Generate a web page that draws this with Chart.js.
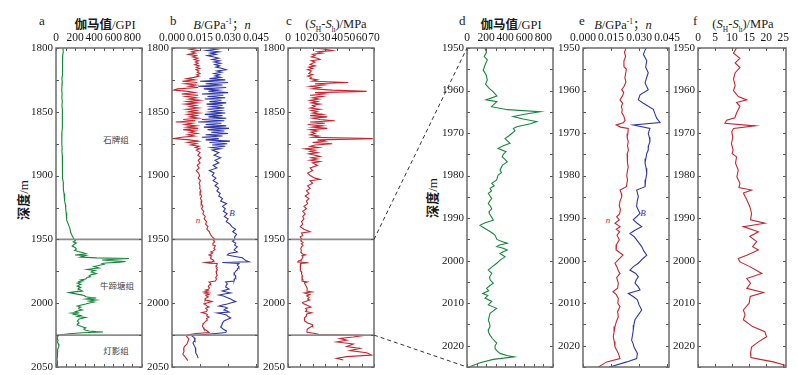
<!DOCTYPE html>
<html>
<head>
<meta charset="utf-8">
<script src="https://cdn.jsdelivr.net/npm/chart.js@4.4.1/dist/chart.umd.min.js"></script>
<style>
  body { margin: 0; background: #fff; }
  #fig { position: relative; width: 798px; height: 375px; overflow: hidden;
         font-family: "Liberation Serif", serif; color: #1a1a1a; }
  #fig canvas { position: absolute; }
  .t { position: absolute; white-space: nowrap; line-height: 1; }
  .let { font-size: 13px; }
  .ttl { font-size: 12.5px; transform: translateX(-50%); }
  .cjk { font-family: "Noto Sans CJK SC", sans-serif; font-weight: 700; }
  .ttl sup, .ttl sub { font-size: 7.5px; line-height: 0; }
  .fm { font-family: "Noto Sans CJK SC", sans-serif; font-size: 8.5px; color: #444; transform: translate(-50%, -50%); }
  .yl { font-size: 13px; transform: translate(-50%, -50%) rotate(-90deg); }
  .cl { font-size: 9px; font-style: italic; transform: translate(-50%, -50%); }
</style>
</head>
<body>
<div id="fig">
  <div class="t let" style="left:39px;top:14px">a</div>
  <div class="t ttl" style="left:105px;top:18px"><span class="cjk">伽马值</span>/GPI</div>
  <div class="t let" style="left:170px;top:14px">b</div>
  <div class="t ttl" style="left:222px;top:18px"><i>B</i>/GPa<sup>-1</sup><span style="font-family:'Noto Sans CJK SC'">；</span><i>n</i></div>
  <div class="t let" style="left:286px;top:14px">c</div>
  <div class="t ttl" style="left:336px;top:18px">(<i>S</i><sub>H</sub>-<i>S</i><sub>h</sub>)/MPa</div>
  <div class="t let" style="left:459px;top:14px">d</div>
  <div class="t ttl" style="left:511px;top:18px"><span class="cjk">伽马值</span>/GPI</div>
  <div class="t let" style="left:579px;top:14px">e</div>
  <div class="t ttl" style="left:623px;top:18px"><i>B</i>/GPa<sup>-1</sup><span style="font-family:'Noto Sans CJK SC'">；</span><i>n</i></div>
  <div class="t let" style="left:693px;top:14px">f</div>
  <div class="t ttl" style="left:743px;top:18px">(<i>S</i><sub>H</sub>-<i>S</i><sub>h</sub>)/MPa</div>

  <div class="t yl" style="left:23px;top:200px"><span class="cjk">深度</span>/m</div>
  <div class="t yl" style="left:432px;top:198px"><span class="cjk">深度</span>/m</div>

  <div class="t fm" style="left:116px;top:139px">石牌组</div>
  <div class="t fm" style="left:117px;top:285px">牛蹄塘组</div>
  <div class="t fm" style="left:116px;top:350px">灯影组</div>

  <div class="t cl" style="left:198px;top:220px;color:#c3262f">n</div>
  <div class="t cl" style="left:232px;top:213px;color:#2f36a6">B</div>
  <div class="t cl" style="left:608px;top:220px;color:#c3262f">n</div>
  <div class="t cl" style="left:643px;top:213px;color:#2f36a6">B</div>
</div>
<script>
// 层位界线 (m)
const formationTops = [1950, 2025];

// 刻度
const depthTicksFull = [1800, 1850, 1900, 1950, 2000, 2050];
const depthMarksFull = [1800, 1825, 1850, 1875, 1900, 1925, 1950, 1975, 2000, 2025, 2050];
const depthTicksZoom = [1950, 1960, 1970, 1980, 1990, 2000, 2010, 2020];
const depthMarksZoom = [1950, 1955, 1960, 1965, 1970, 1975, 1980, 1985, 1990, 1995, 2000, 2005, 2010, 2015, 2020, 2025];
const gammaTicks = [0, 200, 400, 600, 800];
const gammaMarks = [0, 100, 200, 300, 400, 500, 600, 700, 800, 900];
const modulusTicks = [0, 0.015, 0.030, 0.045];
const stressTicksFull = [0, 10, 20, 30, 40, 50, 60, 70];
const stressTicksZoom = [0, 5, 10, 15, 20, 25];

// 伽马值 GPI  [深度, 值]
const gammaLog = [
  [1800,72],[1803,76],[1806,70],[1809,71],[1812,68],[1815,70],[1818,66],[1821,64],[1824,62],[1827,66],
  [1830,63],[1833,60],[1836,64],[1839,61],[1842,66],[1845,62],[1848,67],[1851,65],[1854,69],[1857,66],
  [1860,68],[1863,64],[1866,62],[1869,60],[1872,62],[1875,60],[1878,64],[1881,62],[1884,66],[1887,64],
  [1890,68],[1893,66],[1896,70],[1899,68],[1902,72],[1905,76],[1908,74],[1911,80],[1914,84],[1917,88],
  [1920,93],[1923,99],[1926,102],[1929,106],[1932,110],[1935,114],[1938,128],[1941,144],[1944,152],
  [1946,161],[1948,175],
  [1950,188],[1951,204],[1952,180],[1952.8,213],[1954,189],[1955.2,170],[1956.3,199],[1957.5,213],
  [1958.5,194],[1959.5,232],[1960.3,275],[1961.3,313],[1962.2,199],[1962.6,313],[1963.8,256],
  [1964.5,426],[1965,763],[1965.5,616],[1966.1,483],[1966.7,587],[1967.3,729],[1967.8,663],
  [1968.5,521],[1968.9,485],[1969.5,502],[1970.1,468],[1970.7,436],[1971.3,398],[1972.4,450],
  [1973,379],[1973.6,325],[1974.4,408],[1975,379],[1975.6,369],[1976.2,398],[1976.8,421],[1977.6,369],
  [1978.7,346],[1979.3,360],[1979.9,325],[1981,311],[1981.8,259],[1982.4,284],[1983,241],[1983.6,256],
  [1984.2,223],[1984.8,241],[1985.4,259],[1986,237],[1986.6,223],[1987.2,246],[1987.8,259],[1988.3,237],
  [1988.9,232],[1989.7,256],[1990.5,275],[1991.1,189],[1991.7,136],[1992.3,180],[1992.9,223],
  [1993.5,265],[1994,293],[1995,313],[1995.5,363],[1995.9,421],[1996.3,341],[1996.7,311],[1997.1,379],
  [1997.5,421],[1997.9,379],[1998.3,346],[1999.1,398],[1999.8,350],[2000.6,311],[2001.4,265],
  [2002.2,223],[2003,259],[2003.8,237],[2004.5,241],[2005.3,275],[2005.9,237],[2006.5,205],[2007.1,227],
  [2007.7,164],[2008.2,218],[2008.8,188],[2009.6,259],[2010.4,223],[2011.2,311],[2011.8,275],
  [2012.4,241],[2013.2,232],[2014,223],[2014.8,237],[2015.5,241],[2016.1,227],[2016.7,223],[2017.5,241],
  [2018.3,265],[2019.4,311],[2020,294],[2020.6,293],[2021.2,313],[2021.8,346],[2022.3,417],[2022.6,492],
  [2023.2,275],[2024,136],[2024.9,31],
  [2026,18],[2027.5,12],[2029,22],[2030.5,15],[2032,25],[2034,30],[2036,18],[2038,12],[2040,20],
  [2042,14],[2044,10],[2046,16],[2048,12],[2050,14]
];

// n  [深度, 值]
const nLog = [
  [1800,0.0132],[1801,0.0096],[1802,0.0140],[1803,0.0105],[1804,0.0125],[1805,0.0088],[1806,0.0130],
  [1807,0.0110],[1808,0.0138],[1809,0.0118],[1810,0.0142],[1811,0.0125],[1812,0.0140],[1813,0.0122],
  [1814,0.0145],[1815,0.0130],[1816,0.0148],[1817,0.0128],[1818,0.0143],[1819,0.0135],[1820,0.0150],
  [1821,0.0132],[1822,0.0145],[1823,0.0118],[1824,0.0078],[1825,0.0120],[1826,0.0055],[1827,0.0135],
  [1828,0.0070],[1829,0.0128],[1830,0.0090],[1831,0.0140],[1832,0.0030],[1833,0.0010],[1834,0.0085],
  [1835,0.0122],[1836,0.0052],[1837,0.0140],[1838,0.0075],[1839,0.0130],[1840,0.0090],[1841,0.0148],
  [1842,0.0080],[1843,0.0135],[1844,0.0070],[1845,0.0128],[1846,0.0095],[1847,0.0142],[1848,0.0078],
  [1849,0.0130],[1850,0.0088],[1851,0.0145],[1852,0.0085],[1853,0.0132],[1854,0.0095],[1855,0.0140],
  [1856,0.0060],[1857,0.0125],[1858,0.0020],[1859,0.0110],[1860,0.0070],[1861,0.0130],[1862,0.0080],
  [1863,0.0140],[1864,0.0060],[1865,0.0125],[1866,0.0095],[1867,0.0135],[1868,0.0085],[1869,0.0120],
  [1870,0.0052],[1871,0.0010],[1872,0.0095],[1873,0.0140],[1874,0.0085],[1875,0.0130],[1876,0.0100],
  [1877,0.0145],[1878,0.0125],[1879,0.0148],[1880,0.0130],[1882,0.0150],[1884,0.0138],[1886,0.0155],
  [1888,0.0140],[1890,0.0150],[1892,0.0135],[1894,0.0145],[1896,0.0130],[1898,0.0142],[1900,0.0148],
  [1902,0.0140],[1904,0.0152],[1906,0.0145],[1908,0.0150],[1910,0.0148],[1912,0.0155],[1914,0.0150],
  [1916,0.0158],[1918,0.0152],[1920,0.0160],[1922,0.0156],[1924,0.0165],[1926,0.0158],[1928,0.0170],
  [1930,0.0165],[1932,0.0178],[1934,0.0172],[1936,0.0185],[1938,0.0180],[1940,0.0192],[1942,0.0186],
  [1944,0.0200],[1946,0.0205],[1948,0.0215],
  [1950,0.0230],[1951,0.0222],[1952,0.0228],[1953,0.0219],[1954.4,0.0219],[1955,0.0232],[1956,0.0228],
  [1957,0.0224],[1958,0.0230],[1959,0.0220],[1959.8,0.0207],[1960.5,0.0218],[1961.2,0.0212],
  [1962.2,0.0198],[1963,0.0212],[1963.8,0.0205],[1964.4,0.0210],[1965.2,0.0207],[1966,0.0218],
  [1967,0.0225],[1967.6,0.0215],[1968.1,0.0178],[1968.6,0.0200],[1968.9,0.0242],[1970.1,0.0240],
  [1971,0.0236],[1972,0.0242],[1973,0.0238],[1974,0.0243],[1975,0.0236],[1976,0.0240],[1977,0.0236],
  [1978,0.0242],[1979,0.0237],[1980,0.0234],[1981,0.0238],[1982.6,0.0232],[1983.4,0.0198],
  [1984.2,0.0205],[1985,0.0207],[1986,0.0198],[1987,0.0194],[1988,0.0200],[1989,0.0196],[1989.7,0.0180],
  [1990.4,0.0194],[1991.2,0.0171],[1992,0.0198],[1992.6,0.0178],[1993.2,0.0196],[1994,0.0182],
  [1995.1,0.0194],[1996.2,0.0180],[1997.5,0.0177],[1998.2,0.0200],[1998.7,0.0214],[1999.5,0.0195],
  [2000.6,0.0171],[2001.5,0.0182],[2002.4,0.0189],[2003,0.0198],[2004,0.0180],[2005.3,0.0189],
  [2006.5,0.0185],[2007.3,0.0160],[2008,0.0178],[2008.9,0.0189],[2010,0.0186],[2010.8,0.0198],
  [2012,0.0185],[2013.2,0.0189],[2014.4,0.0178],[2015.5,0.0171],[2016.8,0.0166],[2017.9,0.0162],
  [2019,0.0167],[2020.3,0.0171],[2021,0.0180],[2021.8,0.0189],[2023,0.0198],[2023.8,0.0127],
  [2025,0.0082],
  [2026,0.0078],[2028,0.0090],[2030,0.0085],[2032,0.0080],[2034,0.0066],[2036,0.0062],[2038,0.0064],
  [2040,0.0058],[2042,0.0070],[2044,0.0080],[2045,0.0084]
];

// B (GPa^-1)  [深度, 值]
const bLog = [
  [1800,0.0200],[1801,0.0240],[1802,0.0185],[1803,0.0250],[1804,0.0205],[1805,0.0235],[1806,0.0190],
  [1807,0.0225],[1808,0.0250],[1809,0.0215],[1810,0.0255],[1811,0.0225],[1812,0.0260],[1813,0.0230],
  [1814,0.0255],[1815,0.0235],[1816,0.0270],[1817,0.0290],[1818,0.0240],[1819,0.0265],[1820,0.0225],
  [1821,0.0255],[1822,0.0230],[1823,0.0260],[1824,0.0200],[1825,0.0285],[1826,0.0150],[1827,0.0300],
  [1828,0.0180],[1829,0.0270],[1830,0.0140],[1831,0.0290],[1832,0.0170],[1833,0.0250],[1834,0.0195],
  [1835,0.0300],[1836,0.0160],[1837,0.0275],[1838,0.0190],[1839,0.0285],[1840,0.0175],[1841,0.0265],
  [1842,0.0200],[1843,0.0290],[1844,0.0185],[1845,0.0270],[1846,0.0210],[1847,0.0280],[1848,0.0190],
  [1849,0.0260],[1850,0.0205],[1851,0.0285],[1852,0.0175],[1853,0.0270],[1854,0.0195],[1855,0.0290],
  [1856,0.0160],[1857,0.0280],[1858,0.0140],[1859,0.0265],[1860,0.0180],[1861,0.0290],[1862,0.0170],
  [1863,0.0305],[1864,0.0190],[1865,0.0280],[1866,0.0210],[1867,0.0300],[1868,0.0180],[1869,0.0270],
  [1870,0.0160],[1871,0.0250],[1872,0.0180],[1873,0.0310],[1874,0.0200],[1875,0.0295],[1876,0.0215],
  [1877,0.0285],[1878,0.0210],[1879,0.0260],[1880,0.0215],[1882,0.0250],[1884,0.0225],[1886,0.0260],
  [1888,0.0230],[1890,0.0250],[1892,0.0220],[1894,0.0240],[1896,0.0200],[1898,0.0225],[1900,0.0215],
  [1902,0.0235],[1904,0.0220],[1906,0.0245],[1908,0.0230],[1910,0.0250],[1912,0.0240],[1914,0.0258],
  [1916,0.0250],[1918,0.0270],[1920,0.0260],[1922,0.0292],[1924,0.0270],[1926,0.0285],[1928,0.0275],
  [1930,0.0295],[1932,0.0280],[1934,0.0300],[1936,0.0290],[1938,0.0310],[1940,0.0320],[1942,0.0340],
  [1944,0.0325],[1946,0.0345],[1948,0.0335],
  [1950,0.0337],[1951.5,0.0323],[1953,0.0341],[1954.5,0.0335],[1955.8,0.0349],[1957,0.0340],
  [1958.2,0.0332],[1959.8,0.0349],[1961,0.0305],[1962.2,0.0296],[1963,0.0323],[1964.4,0.0376],
  [1965.5,0.0385],[1966.5,0.0394],[1967.5,0.0412],[1968.1,0.0269],[1968.9,0.0358],[1970.1,0.0349],
  [1971,0.0355],[1972,0.0358],[1973,0.0350],[1974,0.0349],[1974.8,0.0341],[1976,0.0336],[1977.1,0.0332],
  [1978.3,0.0338],[1979.5,0.0341],[1981,0.0335],[1982.6,0.0332],[1983.4,0.0287],[1984.9,0.0296],
  [1986,0.0290],[1987.3,0.0287],[1988.9,0.0305],[1990.4,0.0269],[1991.2,0.0290],[1992,0.0314],
  [1992.8,0.0280],[1993.6,0.0251],[1994.4,0.0275],[1995.1,0.0287],[1996.7,0.0314],[1997.7,0.0325],
  [1998.7,0.0341],[1999.6,0.0318],[2000.6,0.0296],[2001.4,0.0270],[2002.2,0.0251],[2003,0.0282],
  [2003.8,0.0296],[2004.5,0.0285],[2005.3,0.0278],[2006.1,0.0295],[2006.9,0.0305],[2007.7,0.0242],
  [2008.5,0.0270],[2009.2,0.0291],[2010.4,0.0300],[2011.6,0.0314],[2012.8,0.0295],[2013.9,0.0278],
  [2015.1,0.0272],[2016.3,0.0269],[2017.5,0.0265],[2018.7,0.0260],[2019.5,0.0268],[2020.3,0.0273],
  [2021.8,0.0291],[2023,0.0287],[2023.8,0.0234],[2025,0.0144],
  [2025.5,0.0105],[2027,0.0118],[2029,0.0123],[2031,0.0112],[2033,0.0118],[2035,0.0125],[2037,0.0128],
  [2039,0.0126],[2041,0.0135],[2043,0.0140]
];

// (SH-Sh) MPa  [深度, 值]
const stressLog = [
  [1800,22],[1801,30],[1802,36],[1803,24],[1804,28],[1805,20],[1806,22],[1807,19],[1808,24],[1809,26],
  [1810,19],[1811,22],[1812,20],[1813,18],[1814,22],[1815,17],[1816,20],[1817,16],[1818,19],[1819,18],
  [1820,17],[1821,20],[1822,16],[1823,19],[1824,18],[1825,24],[1826,20],[1827,49],[1828,22],[1829,30],
  [1830,18],[1831,26],[1832,20],[1833,36],[1834,64],[1835,22],[1836,30],[1837,18],[1838,28],[1839,20],
  [1840,25],[1841,18],[1842,24],[1843,19],[1844,26],[1845,20],[1846,22],[1847,18],[1848,26],[1849,19],
  [1850,24],[1851,20],[1852,28],[1853,18],[1854,32],[1855,20],[1856,26],[1857,38],[1858,18],[1859,30],
  [1860,16],[1861,28],[1862,20],[1863,32],[1864,18],[1865,24],[1866,19],[1867,22],[1868,18],[1869,25],
  [1870,20],[1871,69],[1872,24],[1873,30],[1874,20],[1875,36],[1876,22],[1877,18],[1878,25],[1879,14],
  [1880,22],[1881,18],[1882,24],[1883,17],[1884,22],[1885,26],[1886,19],[1887,24],[1888,18],[1889,26],
  [1890,20],[1892,24],[1894,18],[1896,20],[1898,16],[1900,18],[1902,22],[1903,26],[1904,18],[1906,20],
  [1908,16],[1910,18],[1912,15],[1914,17],[1916,14],[1918,17],[1920,15],[1922,16],[1924,13],[1926,15],
  [1928,12],[1930,14],[1932,12],[1934,13],[1936,11],[1938,12],[1940,10],[1942,13],[1944,18],[1945,11],
  [1947,12],[1948,10],
  [1950,11.3],[1951.2,10.4],[1952.4,12.3],[1953.5,10.9],[1954.6,12.3],[1955.8,10.9],[1957.3,10.4],
  [1958.8,10.9],[1960,10.4],[1961.4,11.8],[1962.2,14.3],[1962.8,11.3],[1963.7,12.3],[1965.3,11.3],
  [1966.4,10.8],[1967,8.4],[1967.7,7.9],[1968.3,16.7],[1968.9,10.4],[1969.7,9.9],[1971,10.2],
  [1972.5,9.8],[1974,10.3],[1974.8,10.0],[1975.6,11.3],[1977.1,11.0],[1978.7,11.8],[1980.3,11.4],
  [1981.8,12.3],[1982.8,12.0],[1983.4,15.7],[1984.1,13.3],[1985.7,14.3],[1987.3,15.2],[1988.9,15.7],
  [1990.4,15.4],[1991.2,19.6],[1992,13.3],[1993.2,17.7],[1994.3,15.2],[1995.5,17.2],[1996.7,16.0],
  [1997.5,17.7],[1998.7,14.3],[1999.5,11.8],[2000.3,12.3],[2001.4,15.2],[2003,18.7],[2004.2,14.3],
  [2005.3,15.4],[2006.5,14.3],[2007.5,19.2],[2008.4,15.3],[2010,15.0],[2011.6,13.3],[2012.7,13.8],
  [2013.9,13.3],[2015.5,16.0],[2016.7,19.6],[2017.9,20.1],[2019.1,17.7],[2020.3,15.7],[2021.8,15.4],
  [2022.8,15.5],[2023.2,18.2],[2023.8,22.1],[2024.6,25.5],[2025,45],
  [2025.2,62],[2026.5,53.2],[2027.7,42.3],[2029,47.8],[2030.4,39.6],[2032,53.2],[2034,47.8],
  [2035.4,58.6],[2037.2,50.5],[2038.8,64],[2040.6,68],[2041.9,47.8],[2043.2,39.6],[2044.5,45]
];

const GREEN = '#17873b', RED = '#c3262f', BLUE = '#2f36a6', GRAY = '#8c8c8c';
const fig = document.getElementById('fig');
const CANVAS_TOP = 28;
const PAD_RIGHT = 18;

const plain = v => String(v);
const gammaAxis = { min: 0, max: 900, ticks: gammaTicks, marks: gammaMarks, fmt: plain };
const modulusAxis = { min: 0, max: 0.046, ticks: modulusTicks, marks: modulusTicks, fmt: v => v.toFixed(3) };
const stressAxisFull = { min: 0, max: 70, ticks: stressTicksFull, marks: stressTicksFull, fmt: plain };
const stressAxisZoom = { min: 0, max: 25.8, ticks: stressTicksZoom, marks: stressTicksZoom, fmt: plain };
const depthFull = { min: 1800, max: 2050, ticks: depthTicksFull, marks: depthMarksFull };
const depthZoom = { min: 1950, max: 2025, ticks: depthTicksZoom, marks: depthMarksZoom };

// 内向刻度 + 边框
const framePlugin = {
  id: 'frame',
  afterDraw(chart, args, o) {
    const { ctx, chartArea: a } = chart;
    const xs = chart.scales.x, ys = chart.scales.y;
    ctx.save();
    ctx.strokeStyle = '#555';
    ctx.lineWidth = 1;
    ctx.beginPath();
    o.xMarks.forEach(v => {
      const p = Math.round(xs.getPixelForValue(v)) + 0.5;
      ctx.moveTo(p, a.top); ctx.lineTo(p, a.top + 3);
      ctx.moveTo(p, a.bottom); ctx.lineTo(p, a.bottom - 3);
    });
    o.yMarks.forEach(v => {
      const p = Math.round(ys.getPixelForValue(v)) + 0.5;
      ctx.moveTo(a.left, p); ctx.lineTo(a.left + 3, p);
      ctx.moveTo(a.right, p); ctx.lineTo(a.right - 3, p);
    });
    ctx.stroke();
    ctx.strokeStyle = '#6b6b6b';
    ctx.lineWidth = 1.5;
    ctx.strokeRect(a.left, a.top, a.right - a.left, a.bottom - a.top);
    ctx.restore();
  }
};

const curve = (log, color) => ({
  data: log.map(([d, v]) => ({ x: v, y: d })),
  showLine: true, borderColor: color, borderWidth: 1.1, pointRadius: 0, fill: false
});
const topLines = xr => formationTops.map(t => ({
  data: [{ x: xr.min, y: t }, { x: xr.max, y: t }],
  showLine: true, borderColor: GRAY, borderWidth: 1.8, pointRadius: 0
}));

function panel(left, right, xr, yr, datasets) {
  const w = right - left + 44 + PAD_RIGHT, h = 367 - CANVAS_TOP + 6;
  const cv = document.createElement('canvas');
  cv.width = w; cv.height = h;
  Object.assign(cv.style, { left: (left - 44) + 'px', top: CANVAS_TOP + 'px', width: w + 'px', height: h + 'px' });
  fig.appendChild(cv);
  const chart = new Chart(cv, {
    type: 'scatter',
    data: { datasets },
    options: {
      responsive: false,
      animation: false,
      events: [],
      layout: { padding: { left: 0, top: 0, right: PAD_RIGHT, bottom: 6 }, autoPadding: false },
      plugins: {
        legend: { display: false },
        tooltip: { enabled: false },
        frame: { xMarks: xr.marks, yMarks: yr.marks }
      },
      scales: {
        x: {
          type: 'linear', position: 'top', min: xr.min, max: xr.max,
          grid: { display: false, drawTicks: false }, border: { display: false },
          ticks: { font: { size: 11.5 }, color: '#1a1a1a', padding: 3, maxRotation: 0, autoSkip: false, callback: xr.fmt },
          afterBuildTicks: s => { s.ticks = xr.ticks.map(v => ({ value: v })); },
          afterFit: s => { s.height = 20; s.paddingLeft = 0; s.paddingRight = 0; }
        },
        y: {
          type: 'linear', reverse: true, min: yr.min, max: yr.max,
          grid: { display: false, drawTicks: false }, border: { display: false },
          ticks: { font: { size: 11 }, color: '#1a1a1a', padding: 3, autoSkip: false, callback: plain },
          afterBuildTicks: s => { s.ticks = yr.ticks.map(v => ({ value: v })); },
          afterFit: s => { s.width = 44; s.paddingTop = 0; s.paddingBottom = 0; }
        }
      }
    },
    plugins: [framePlugin]
  });
  chart.pageLeft = left - 44;
  return chart;
}

Chart.defaults.font.family = '"Liberation Serif", serif';

const chA = panel(56, 142, gammaAxis, depthFull, [...topLines(gammaAxis), curve(gammaLog, GREEN)]);
const chB = panel(172, 258, modulusAxis, depthFull, [...topLines(modulusAxis), curve(nLog, RED), curve(bLog, BLUE)]);
const chC = panel(288, 374, stressAxisFull, depthFull, [...topLines(stressAxisFull), curve(stressLog, RED)]);
const chD = panel(467, 553, gammaAxis, depthZoom, [curve(gammaLog, GREEN)]);
const chE = panel(583, 669, modulusAxis, depthZoom, [curve(nLog, RED), curve(bLog, BLUE)]);
const chF = panel(698, 786, stressAxisZoom, depthZoom, [curve(stressLog, RED)]);

// 放大区间连接虚线
const ov = document.createElement('canvas');
ov.width = 798; ov.height = 375;
Object.assign(ov.style, { left: '0px', top: '0px', width: '798px', height: '375px', pointerEvents: 'none' });
fig.appendChild(ov);
const g = ov.getContext('2d');
g.strokeStyle = '#333';
g.lineWidth = 1;
g.setLineDash([4, 3]);
formationTops.forEach(t => {
  const x1 = chC.pageLeft + chC.chartArea.right;
  const y1 = CANVAS_TOP + chC.scales.y.getPixelForValue(t);
  const x2 = chD.pageLeft + chD.chartArea.left;
  const y2 = CANVAS_TOP + chD.scales.y.getPixelForValue(t);
  g.beginPath();
  g.moveTo(x1, y1);
  g.lineTo(x2, y2);
  g.stroke();
});
</script>
</body>
</html>
